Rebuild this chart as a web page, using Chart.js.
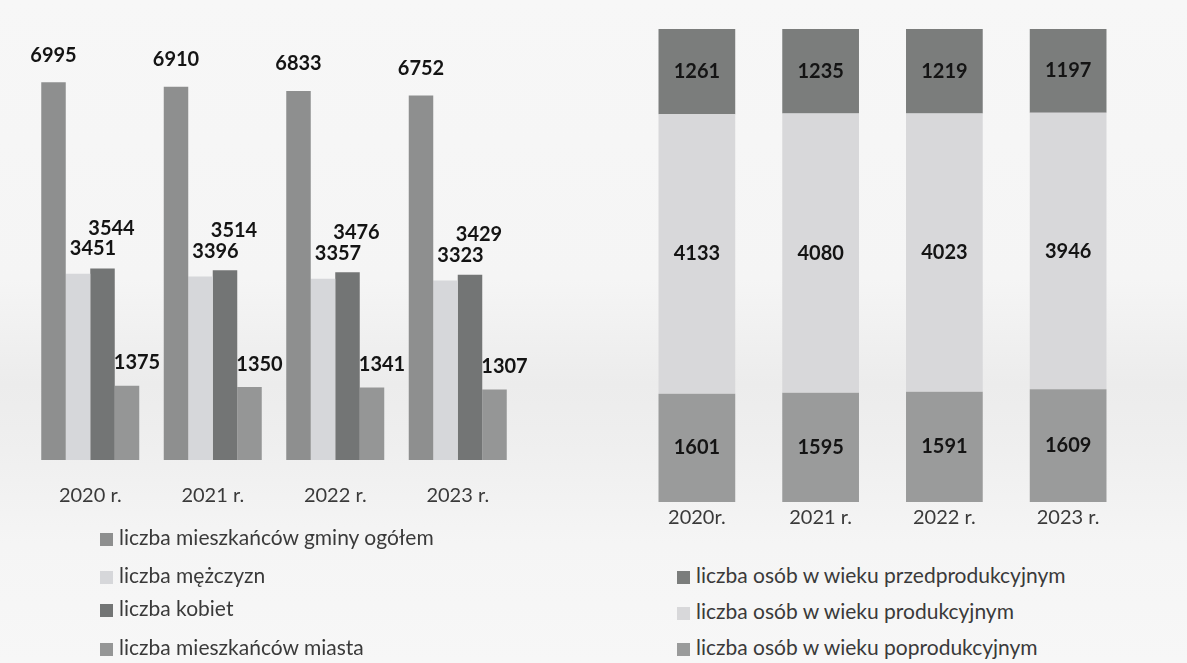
<!DOCTYPE html>
<html lang="pl">
<head>
<meta charset="utf-8">
<script src="https://cdn.jsdelivr.net/npm/chart.js@4.4.1/dist/chart.umd.min.js"></script>
<style>
    html, body {
        margin: 0;
        padding: 0;
        width: 1187px;
        height: 663px;
        overflow: hidden;
        font-family: Lato, 'Open Sans', sans-serif;
        background: linear-gradient(180deg, #f7f7f7 0%, #f5f5f5 42%, #ececec 58%, #efefef 68%, #f5f5f5 82%, #f7f7f7 100%);
    }
    .chart-box { position: absolute; }
    #left-box { left: 0; top: 0; width: 560px; height: 532px; }
    #right-box { left: 600px; top: 0; width: 587px; height: 534px; }
    .legend { position: absolute; color: #3a3a3a; font-size: 21px; }
    .legend div { height: 36px; line-height: 36px; white-space: nowrap; }
    .legend span.box {
        display: inline-block;
        width: 13px;
        height: 13px;
        margin-right: 6px;
        vertical-align: -1px;
    }
    #left-legend { left: 100px; top: 519px; }
    #left-legend div:nth-child(1) { height: 38px; }
    #left-legend div:nth-child(2) { height: 33px; }
    #left-legend div:nth-child(3) { height: 39px; }
    #right-legend { left: 677px; top: 557px; }
</style>
</head>
<body>
<div class="chart-box" id="left-box"><canvas id="population-chart"></canvas></div>
<div class="chart-box" id="right-box"><canvas id="age-chart"></canvas></div>
<div class="legend" id="left-legend"></div>
<div class="legend" id="right-legend"></div>
<script>
// lewy wykres: liczba mieszkańców
const populationYears = ['2020 r.', '2021 r.', '2022 r.', '2023 r.'];
const populationLabels = [
    'liczba mieszkańców gminy ogółem',
    'liczba mężczyzn',
    'liczba kobiet',
    'liczba mieszkańców miasta'
];
const totalResidents = [6995, 6910, 6833, 6752];
const menCount = [3451, 3396, 3357, 3323];
const womenCount = [3544, 3514, 3476, 3429];
const townResidents = [1375, 1350, 1341, 1307];

// prawy wykres: grupy wieku (legenda od góry)
const ageYears = ['2020r.', '2021 r.', '2022 r.', '2023 r.'];
const ageLabels = [
    'liczba osób w wieku przedprodukcyjnym',
    'liczba osób w wieku produkcyjnym',
    'liczba osób w wieku poprodukcyjnym'
];
const preWorkingAge = [1261, 1235, 1219, 1197];
const workingAge = [4133, 4080, 4023, 3946];
const postWorkingAge = [1601, 1595, 1591, 1609];

const populationColors = ['#8e8f8f', '#d6d7da', '#737575', '#959696'];
const populationLabelShift = [
    { dx: 0, dy: -27 },
    { dx: 15, dy: -25 },
    { dx: 9, dy: -40 },
    { dx: 10, dy: -23 }
];
const ageColors = ['#7b7d7c', '#d8d8da', '#9a9b9b'];

const barValueLabels = {
    id: 'barValueLabels',
    afterDatasetsDraw(chart, args, opts) {
        const ctx = chart.ctx;
        ctx.save();
        ctx.font = opts.font;
        ctx.fillStyle = '#141414';
        ctx.textAlign = 'center';
        ctx.textBaseline = 'middle';
        chart.data.datasets.forEach((dataset, di) => {
            const meta = chart.getDatasetMeta(di);
            meta.data.forEach((bar, i) => {
                const text = dataset.rawValues[i];
                if (opts.mode === 'center') {
                    ctx.fillText(text, bar.x, (bar.y + bar.base) / 2);
                } else {
                    const shift = dataset.labelShift;
                    ctx.fillText(text, bar.x + shift.dx, bar.y + shift.dy);
                }
            });
        });
        ctx.restore();
    }
};

function makeLegend(id, labels, colors) {
    const el = document.getElementById(id);
    el.innerHTML = labels.map((label, i) =>
        `<div><span class="box" style="background:${colors[i]}"></span>${label}</div>`
    ).join('');
}

const populationSeries = [totalResidents, menCount, womenCount, townResidents];

new Chart(document.getElementById('population-chart'), {
    type: 'bar',
    data: {
        labels: populationYears,
        datasets: populationSeries.map((values, i) => ({
            label: populationLabels[i],
            data: values,
            rawValues: values,
            labelShift: populationLabelShift[i],
            backgroundColor: populationColors[i],
            categoryPercentage: 0.8,
            barPercentage: 1.0
        }))
    },
    options: {
        responsive: true,
        maintainAspectRatio: false,
        animation: false,
        layout: { padding: { top: 28, bottom: 0, left: 29, right: 41 } },
        plugins: {
            legend: { display: false },
            tooltip: { enabled: false },
            barValueLabels: { font: 'bold 20px Lato, sans-serif', mode: 'above' }
        },
        scales: {
            x: {
                grid: { display: false, drawTicks: false },
                border: { display: false },
                ticks: { color: '#3a3a3a', padding: 24, font: { family: 'Lato', size: 20 } }
            },
            y: { display: false, min: 0, max: 8000 }
        }
    },
    plugins: [barValueLabels]
});

// stos 100% – od dołu: poprodukcyjny, produkcyjny, przedprodukcyjny
const ageStack = [postWorkingAge, workingAge, preWorkingAge];
const ageStackLabels = [ageLabels[2], ageLabels[1], ageLabels[0]];
const ageStackColors = [ageColors[2], ageColors[1], ageColors[0]];
const ageTotals = ageYears.map((_, i) => ageStack.reduce((sum, s) => sum + s[i], 0));

new Chart(document.getElementById('age-chart'), {
    type: 'bar',
    data: {
        labels: ageYears,
        datasets: ageStack.map((values, i) => ({
            label: ageStackLabels[i],
            data: values.map((v, j) => v / ageTotals[j] * 100),
            rawValues: values,
            backgroundColor: ageStackColors[i],
            categoryPercentage: 0.62,
            barPercentage: 1.0
        }))
    },
    options: {
        responsive: true,
        maintainAspectRatio: false,
        animation: false,
        layout: { padding: { top: 29, bottom: 0, left: 35, right: 57 } },
        plugins: {
            legend: { display: false },
            tooltip: { enabled: false },
            barValueLabels: { font: 'bold 20px Lato, sans-serif', mode: 'center' }
        },
        scales: {
            x: {
                stacked: true,
                grid: { display: false, drawTicks: false },
                border: { display: false },
                ticks: { color: '#3a3a3a', padding: 4, font: { family: 'Lato', size: 20 } }
            },
            y: { display: false, stacked: true, min: 0, max: 100 }
        }
    },
    plugins: [barValueLabels]
});

makeLegend('left-legend', populationLabels, populationColors);
makeLegend('right-legend', ageLabels, ageColors);
</script>
</body>
</html>
